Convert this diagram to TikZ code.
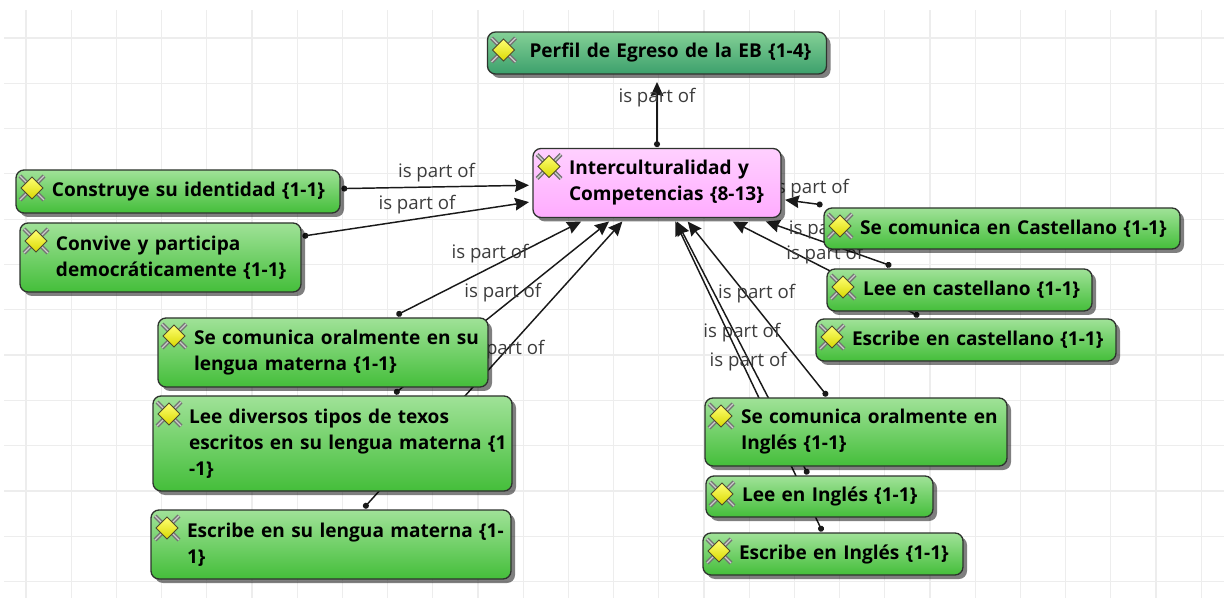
\documentclass[tikz,border=0pt]{standalone}
\usepackage{fontspec}
\setmainfont{Open Sans}
\usetikzlibrary{arrows.meta, calc, shadows}

\pgfdeclarelayer{gridlayer}
\pgfdeclarelayer{linklayer}
\pgfsetlayers{gridlayer,linklayer,main}

\definecolor{gridline}{HTML}{EDEDED}
\definecolor{boxline}{HTML}{2E332E}
\definecolor{labeltext}{HTML}{3C3C3C}

\tikzset{
    code/.style 2 args = {
        draw = boxline,
        line width = 1pt,
        rounded corners = 6pt,
        font = \fontsize{14.3}{19.5}\selectfont\bfseries,
        inner xsep = 0pt,
        inner ysep = 0pt,
        outer sep = 3pt,
        align = left,
        text = black,
        text width = #1*0.75pt,
        minimum height = #2*0.75pt,
        execute at begin node = {\leftskip=27pt},
        drop shadow = {shadow xshift = 3pt, shadow yshift = -3pt, fill = black, opacity = 0.5}
    },
    gr/.style = {top color = {rgb,255:red,160;green,226;blue,152}, bottom color = {rgb,255:red,68;green,190;blue,58}},
    teal box/.style = {top color = {rgb,255:red,132;green,208;blue,150}, bottom color = {rgb,255:red,60;green,160;blue,108}},
    pink box/.style = {top color = {rgb,255:red,255;green,208;blue,255}, bottom color = {rgb,255:red,255;green,172;blue,255}},
    link/.style = {
        {Circle[length = 4.5pt]}-{Stealth[length = 10.5pt, width = 9.5pt, inset = 1pt]},
        shorten < = -2pt,
        line width = 1.1pt,
        black!90
    },
    ispart/.style = {
        yshift = 10.5pt,
        text = labeltext,
        font = \fontsize{14}{15}\selectfont
    },
    gem/.pic = {
        \draw[black!55, line width = 3pt] (-12,-12) -- (12,12);
        \draw[black!55, line width = 3pt] (-12,12) -- (12,-12);
        \draw[white!80!black, line width = 1pt] (-12,-12) -- (12,12);
        \draw[white!80!black, line width = 1pt] (-12,12) -- (12,-12);
        \draw[draw = black!60!olive, line width = 0.6pt, top color = yellow!55!white, bottom color = yellow!85!black]
            (0,-11) -- (11,0) -- (0,11) -- (-11,0) -- cycle;
    }
}

\begin{document}
\begin{tikzpicture}[x = 0.75pt, y = -0.75pt]

    \useasboundingbox (0,0) rectangle (1224,598);

    \begin{pgfonlayer}{gridlayer}
        \foreach \k in {0,...,26} \draw[gridline, line width = 0.9pt] (26+45.2*\k,10) -- (26+45.2*\k,598);
        \foreach \k in {0,...,12} \draw[gridline, line width = 0.9pt] (4,38+45.3*\k) -- (1224,38+45.3*\k);
    \end{pgfonlayer}

    \node[code={339}{42}, teal box, execute at begin node = {\leftskip=31.5pt}] (Perfil) at (657,53) {Perfil de Egreso de la EB \{1-4\}};
    \node[code={248}{69}, pink box] (Inter) at (657,183) {Interculturalidad y\\Competencias \{8-13\}};

    \node[code={324}{43}, gr] (Identidad) at (178,191.5) {Construye su identidad \{1-1\}};
    \node[code={281}{69}, gr] (Convive) at (160.5,257.5) {Convive y participa\\democráticamente \{1-1\}};
    \node[code={330}{69}, gr] (OralMaterna) at (323,352.5) {Se comunica oralmente en su\\lengua materna \{1-1\}};
    \node[code={359}{95}, gr] (LeeMaterna) at (332.5,443.5) {Lee diversos tipos de texos\\escritos en su lengua materna \{1\\-1\}};
    \node[code={360}{69}, gr] (EscribeMaterna) at (331,544.5) {Escribe en su lengua materna \{1-\\1\}};

    \node[code={356}{41}, gr] (Castellano) at (1002,228.5) {Se comunica en Castellano \{1-1\}};
    \node[code={265}{42}, gr] (LeeCast) at (959.5,290) {Lee en castellano \{1-1\}};
    \node[code={300}{42}, gr] (EscribeCast) at (966,340) {Escribe en castellano \{1-1\}};
    \node[code={302}{68}, gr] (OralIngles) at (856,432) {Se comunica oralmente en\\Inglés \{1-1\}};
    \node[code={227}{41}, gr] (LeeIngles) at (819.5,496.5) {Lee en Inglés \{1-1\}};
    \node[code={260}{42}, gr] (EscribeIngles) at (833,554) {Escribe en Inglés \{1-1\}};

    \foreach \n in {Perfil, Inter, Identidad, Convive, OralMaterna, LeeMaterna, EscribeMaterna,
                    Castellano, LeeCast, EscribeCast, OralIngles, LeeIngles, EscribeIngles}
        \pic at ($(\n.north west)+(20,22)$) {gem};

    \begin{pgfonlayer}{linklayer}
        \path[link] (Inter) edge[shorten >= 3pt] node[ispart] {is part of} (Perfil);
        \path[link] (Identidad) edge node[ispart] {is part of} (Inter);
        \path[link] (Convive) edge node[ispart] {is part of} (Inter);
        \path[link] (OralMaterna) edge node[ispart] {is part of} (Inter);
        \path[link] (LeeMaterna) edge node[ispart] {is part of} (Inter);
        \path[link] (EscribeMaterna) edge node[ispart, xshift = 9pt] {is part of} (Inter);
        \path[link] (Castellano) edge node[ispart, xshift = 6pt] {is part of} (Inter);
        \path[link] (LeeCast) edge node[ispart] {is part of} (Inter);
        \path[link] (EscribeCast) edge node[ispart] {is part of} (Inter);
        \path[link] (OralIngles) edge node[ispart] {is part of} (Inter);
        \path[link] (LeeIngles) edge node[ispart] {is part of} (Inter);
        \path[link] (EscribeIngles) edge node[ispart] {is part of} (Inter);
    \end{pgfonlayer}

\end{tikzpicture}
\end{document}
